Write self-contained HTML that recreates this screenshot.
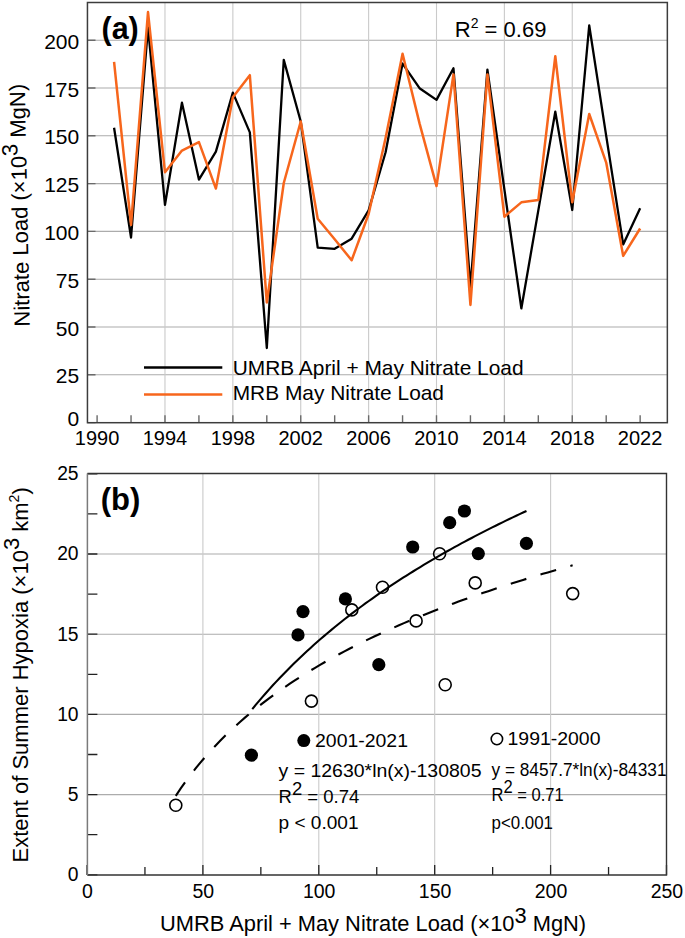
<!DOCTYPE html>
<html><head><meta charset="utf-8"><style>html,body{margin:0;padding:0;background:#fff;}body{width:685px;height:938px;overflow:hidden;font-family:"Liberation Sans", sans-serif;}svg{display:block;}</style></head><body>
<svg width="685" height="938" viewBox="0 0 685 938">
<rect width="685" height="938" fill="#fff"/>
<path d="M87.5 374.80H667.4 M87.5 327.00H667.4 M87.5 279.20H667.4 M87.5 231.40H667.4 M87.5 183.60H667.4 M87.5 135.80H667.4 M87.5 88.00H667.4 M87.5 40.20H667.4" stroke="#acacac" stroke-width="1.1" fill="none"/>
<path d="M164.98 2.5V422.7 M232.86 2.5V422.7 M300.74 2.5V422.7 M368.62 2.5V422.7 M436.50 2.5V422.7 M504.38 2.5V422.7 M572.26 2.5V422.7" stroke="#cacaca" stroke-width="1.1" fill="none"/>
<path d="M87.5 422.60h8 M87.5 374.80h8 M87.5 327.00h8 M87.5 279.20h8 M87.5 231.40h8 M87.5 183.60h8 M87.5 135.80h8 M87.5 88.00h8 M87.5 40.20h8 M97.10 422.7v-7.5 M131.04 422.7v-7.5 M164.98 422.7v-7.5 M198.92 422.7v-7.5 M232.86 422.7v-7.5 M266.80 422.7v-7.5 M300.74 422.7v-7.5 M334.68 422.7v-7.5 M368.62 422.7v-7.5 M402.56 422.7v-7.5 M436.50 422.7v-7.5 M470.44 422.7v-7.5 M504.38 422.7v-7.5 M538.32 422.7v-7.5 M572.26 422.7v-7.5 M606.20 422.7v-7.5 M640.14 422.7v-7.5" stroke="#6a6a6a" stroke-width="1.4" fill="none"/>
<rect x="87.45" y="2.5" width="579.9" height="420.2" stroke="#3c3c3c" stroke-width="1.5" fill="none"/>
<path d="M144 367.5H222.3" stroke="#000" stroke-width="2.3"/>
<path d="M144 394.6H222.3" stroke="#f7661c" stroke-width="2.5"/>
<polyline points="114.07,127.77 131.04,237.52 148.01,27.39 164.98,204.82 181.95,102.72 198.92,179.58 215.89,151.67 232.86,92.59 249.83,132.36 266.80,348.03 283.77,59.89 300.74,121.46 317.71,247.65 334.68,248.80 351.65,238.67 368.62,210.37 385.59,152.24 402.56,63.53 419.53,88.19 436.50,99.85 453.47,68.31 470.44,286.85 487.41,69.64 504.38,189.34 521.35,308.45 538.32,210.37 555.29,111.71 572.26,209.99 589.23,25.48 606.20,135.80 623.17,244.40 640.14,208.26" stroke="#000" stroke-width="2.3" fill="none" stroke-linejoin="round"/>
<polyline points="114.07,61.81 131.04,224.90 148.01,12.09 164.98,172.32 181.95,150.52 198.92,142.11 215.89,188.57 232.86,97.18 249.83,75.19 266.80,302.53 283.77,183.03 300.74,121.46 317.71,218.78 334.68,239.24 351.65,260.27 368.62,214.00 385.59,137.90 402.56,53.78 419.53,123.37 436.50,186.09 453.47,74.42 470.44,305.01 487.41,74.42 504.38,216.68 521.35,202.34 538.32,200.04 555.29,56.26 572.26,202.34 589.23,114.00 606.20,162.57 623.17,255.87 640.14,228.53" stroke="#f7661c" stroke-width="2.5" fill="none" stroke-linejoin="round"/>
<g font-family='"Liberation Sans", sans-serif' fill="#000">
<text x="101.5" y="38.8" font-size="30.5" font-weight="bold">(a)</text>
<text x="454.8" y="36.5" font-size="22">R<tspan font-size="14" dy="-8.8">2</tspan><tspan dy="8.8"> = 0.69</tspan></text>
<text x="79.2" y="426.0" font-size="21" text-anchor="end">0</text>
<text x="79.2" y="383.4" font-size="21" text-anchor="end">25</text>
<text x="79.2" y="335.6" font-size="21" text-anchor="end">50</text>
<text x="79.2" y="287.8" font-size="21" text-anchor="end">75</text>
<text x="79.2" y="240.0" font-size="21" text-anchor="end">100</text>
<text x="79.2" y="192.2" font-size="21" text-anchor="end">125</text>
<text x="79.2" y="144.4" font-size="21" text-anchor="end">150</text>
<text x="79.2" y="96.6" font-size="21" text-anchor="end">175</text>
<text x="79.2" y="48.8" font-size="21" text-anchor="end">200</text>
<text x="97.1" y="444.9" font-size="20" text-anchor="middle">1990</text>
<text x="165.0" y="444.9" font-size="20" text-anchor="middle">1994</text>
<text x="232.9" y="444.9" font-size="20" text-anchor="middle">1998</text>
<text x="300.7" y="444.9" font-size="20" text-anchor="middle">2002</text>
<text x="368.6" y="444.9" font-size="20" text-anchor="middle">2006</text>
<text x="436.5" y="444.9" font-size="20" text-anchor="middle">2010</text>
<text x="504.4" y="444.9" font-size="20" text-anchor="middle">2014</text>
<text x="572.3" y="444.9" font-size="20" text-anchor="middle">2018</text>
<text x="640.1" y="444.9" font-size="20" text-anchor="middle">2022</text>
<text x="232.7" y="374.8" font-size="20.9">UMRB April + May Nitrate Load</text>
<text x="232.7" y="400.2" font-size="20.9">MRB May Nitrate Load</text>
<text transform="translate(29.8,326.4) rotate(-91.2)" font-size="22">Nitrate Load (×10<tspan dy="-8.8">3</tspan><tspan dy="8.8"> MgN)</tspan></text>
</g>
<path d="M87.4 794.60H666.5 M87.4 714.40H666.5 M87.4 634.20H666.5 M87.4 554.00H666.5" stroke="#acacac" stroke-width="1.1" fill="none"/>
<path d="M202.90 473.5V875.0 M318.80 473.5V875.0 M434.70 473.5V875.0 M550.60 473.5V875.0" stroke="#cacaca" stroke-width="1.1" fill="none"/>
<path d="M87.4 874.80h10 M87.4 834.70h10 M87.4 794.60h10 M87.4 754.50h10 M87.4 714.40h10 M87.4 674.30h10 M87.4 634.20h10 M87.4 594.10h10 M87.4 554.00h10 M87.4 513.90h10 M87.4 473.80h10 M87.00 875.0v-10 M144.95 875.0v-8 M202.90 875.0v-10 M260.85 875.0v-8 M318.80 875.0v-10 M376.75 875.0v-8 M434.70 875.0v-10 M492.65 875.0v-8 M550.60 875.0v-10 M608.55 875.0v-8 M666.50 875.0v-10" stroke="#222" stroke-width="1.3" fill="none"/>
<path d="M87.4 473.5H666.5V875.0H87.4" stroke="#333" stroke-width="1.4" fill="none"/>
<path d="M87.4 473.5V875.0" stroke="#7a7a7a" stroke-width="1.5" fill="none"/>
<polyline points="252.27,709.09 255.70,704.93 259.13,700.86 262.56,696.87 265.98,692.95 269.41,689.10 272.84,685.33 276.27,681.63 279.70,677.99 283.12,674.42 286.55,670.91 289.98,667.46 293.41,664.07 296.83,660.73 300.26,657.45 303.69,654.22 307.12,651.04 310.55,647.91 313.97,644.83 317.40,641.79 320.83,638.80 324.26,635.85 327.68,632.94 331.11,630.08 334.54,627.26 337.97,624.47 341.39,621.72 344.82,619.01 348.25,616.33 351.68,613.69 355.11,611.09 358.53,608.51 361.96,605.97 365.39,603.46 368.82,600.98 372.24,598.53 375.67,596.11 379.10,593.72 382.53,591.36 385.96,589.02 389.38,586.71 392.81,584.43 396.24,582.17 399.67,579.94 403.09,577.73 406.52,575.54 409.95,573.38 413.38,571.24 416.81,569.13 420.23,567.03 423.66,564.96 427.09,562.91 430.52,560.88 433.94,558.86 437.37,556.87 440.80,554.90 444.23,552.95 447.65,551.01 451.08,549.10 454.51,547.20 457.94,545.32 461.37,543.45 464.79,541.61 468.22,539.78 471.65,537.96 475.08,536.17 478.50,534.38 481.93,532.62 485.36,530.87 488.79,529.13 492.22,527.41 495.64,525.70 499.07,524.01 502.50,522.33 505.93,520.67 509.35,519.02 512.78,517.38 516.21,515.76 519.64,514.15 523.07,512.55 526.49,510.96" stroke="#000" stroke-width="2.1" fill="none"/>
<polyline points="175.78,795.81 180.74,788.43 185.70,781.43 190.66,774.78 195.62,768.44 200.58,762.38 205.54,756.58 210.50,751.02 215.46,745.68 220.42,740.54 225.38,735.59 230.35,730.81 235.31,726.19 240.27,721.73 245.23,717.41 250.19,713.22 255.15,709.16 260.11,705.22 265.07,701.38 270.03,697.66 274.99,694.03 279.95,690.49 284.91,687.05 289.87,683.69 294.83,680.42 299.79,677.22 304.75,674.09 309.71,671.03 314.67,668.04 319.63,665.12 324.60,662.26 329.56,659.46 334.52,656.71 339.48,654.02 344.44,651.38 349.40,648.79 354.36,646.25 359.32,643.75 364.28,641.30 369.24,638.90 374.20,636.54 379.16,634.21 384.12,631.93 389.08,629.68 394.04,627.47 399.00,625.30 403.96,623.16 408.92,621.05 413.88,618.98 418.84,616.93 423.81,614.92 428.77,612.94 433.73,610.98 438.69,609.06 443.65,607.16 448.61,605.28 453.57,603.43 458.53,601.61 463.49,599.81 468.45,598.03 473.41,596.28 478.37,594.55 483.33,592.84 488.29,591.16 493.25,589.49 498.21,587.84 503.17,586.22 508.13,584.61 513.09,583.02 518.06,581.45 523.02,579.90 527.98,578.36 532.94,576.84 537.90,575.34 542.86,573.86 547.82,572.39 552.78,570.94 557.74,569.50 562.70,568.08 567.66,566.67 572.62,565.28" stroke="#000" stroke-width="2.1" fill="none" stroke-dasharray="16.3 14.8"/>
<circle cx="303.0" cy="611.6" r="6.6" fill="#000"/>
<circle cx="298.0" cy="634.9" r="6.6" fill="#000"/>
<circle cx="345.4" cy="598.9" r="6.6" fill="#000"/>
<circle cx="378.8" cy="664.7" r="6.6" fill="#000"/>
<circle cx="412.7" cy="547.0" r="6.6" fill="#000"/>
<circle cx="449.7" cy="522.7" r="6.6" fill="#000"/>
<circle cx="464.4" cy="511.0" r="6.6" fill="#000"/>
<circle cx="478.3" cy="553.6" r="6.6" fill="#000"/>
<circle cx="526.4" cy="543.4" r="6.6" fill="#000"/>
<circle cx="251.4" cy="755.2" r="6.6" fill="#000"/>
<circle cx="311.4" cy="701.1" r="6.0" fill="none" stroke="#000" stroke-width="1.6"/>
<circle cx="351.8" cy="609.9" r="6.0" fill="none" stroke="#000" stroke-width="1.6"/>
<circle cx="382.5" cy="587.3" r="6.0" fill="none" stroke="#000" stroke-width="1.6"/>
<circle cx="439.6" cy="553.7" r="6.0" fill="none" stroke="#000" stroke-width="1.6"/>
<circle cx="475.2" cy="582.9" r="6.0" fill="none" stroke="#000" stroke-width="1.6"/>
<circle cx="572.7" cy="593.6" r="6.0" fill="none" stroke="#000" stroke-width="1.6"/>
<circle cx="416.1" cy="620.9" r="6.0" fill="none" stroke="#000" stroke-width="1.6"/>
<circle cx="445.2" cy="684.7" r="6.0" fill="none" stroke="#000" stroke-width="1.6"/>
<circle cx="175.8" cy="805.3" r="6.0" fill="none" stroke="#000" stroke-width="1.6"/>
<circle cx="303.8" cy="740.6" r="6.5" fill="#000"/>
<circle cx="496.9" cy="739" r="5.7" fill="none" stroke="#000" stroke-width="1.6"/>
<g font-family='"Liberation Sans", sans-serif' fill="#000">
<text x="100.8" y="509.6" font-size="31" font-weight="bold">(b)</text>
<text x="78.6" y="881.1" font-size="19.3" text-anchor="end">0</text>
<text x="78.6" y="800.9" font-size="19.3" text-anchor="end">5</text>
<text x="78.6" y="720.7" font-size="19.3" text-anchor="end">10</text>
<text x="78.6" y="640.5" font-size="19.3" text-anchor="end">15</text>
<text x="78.6" y="560.3" font-size="19.3" text-anchor="end">20</text>
<text x="78.6" y="480.1" font-size="19.3" text-anchor="end">25</text>
<text x="87.4" y="898.1" font-size="19.5" text-anchor="middle">0</text>
<text x="203.3" y="898.1" font-size="19.5" text-anchor="middle">50</text>
<text x="319.2" y="898.1" font-size="19.5" text-anchor="middle">100</text>
<text x="435.1" y="898.1" font-size="19.5" text-anchor="middle">150</text>
<text x="551.0" y="898.1" font-size="19.5" text-anchor="middle">200</text>
<text x="666.9" y="898.1" font-size="19.5" text-anchor="middle">250</text>
<text x="160" y="931.1" font-size="21.85">UMRB April + May Nitrate Load (×10<tspan dy="-8.5">3</tspan><tspan dy="8.5"> MgN)</tspan></text>
<text transform="translate(28.2,862.5) rotate(-90)" font-size="22">Extent of Summer Hypoxia (×10<tspan dy="-9.4">3</tspan><tspan dy="9.4"> km</tspan><tspan font-size="14" dy="-9">2</tspan><tspan dy="9">)</tspan></text>
<text x="315" y="746.8" font-size="18.5" textLength="93" lengthAdjust="spacingAndGlyphs">2001-2021</text>
<text x="507.5" y="745.4" font-size="18.5" textLength="93" lengthAdjust="spacingAndGlyphs">1991-2000</text>
<text x="278.5" y="777.2" font-size="18.5" textLength="203" lengthAdjust="spacingAndGlyphs">y = 12630*ln(x)-130805</text>
<text x="278.5" y="802.8" font-size="18.5">R<tspan dy="-8">2</tspan><tspan dy="8"> = 0.74</tspan></text>
<text x="278.5" y="829" font-size="18.5" textLength="80" lengthAdjust="spacingAndGlyphs">p &lt; 0.001</text>
<text x="491.5" y="776" font-size="18.5" textLength="175" lengthAdjust="spacingAndGlyphs">y = 8457.7*ln(x)-84331</text>
<g transform="translate(491.5,0) scale(0.895,1)"><text x="0" y="801.5" font-size="18.5">R<tspan dy="-8">2</tspan><tspan dy="8"> = 0.71</tspan></text></g>
<text x="491.5" y="828.6" font-size="18.5" textLength="61.5" lengthAdjust="spacingAndGlyphs">p&lt;0.001</text>
</g>
</svg>
</body></html>
